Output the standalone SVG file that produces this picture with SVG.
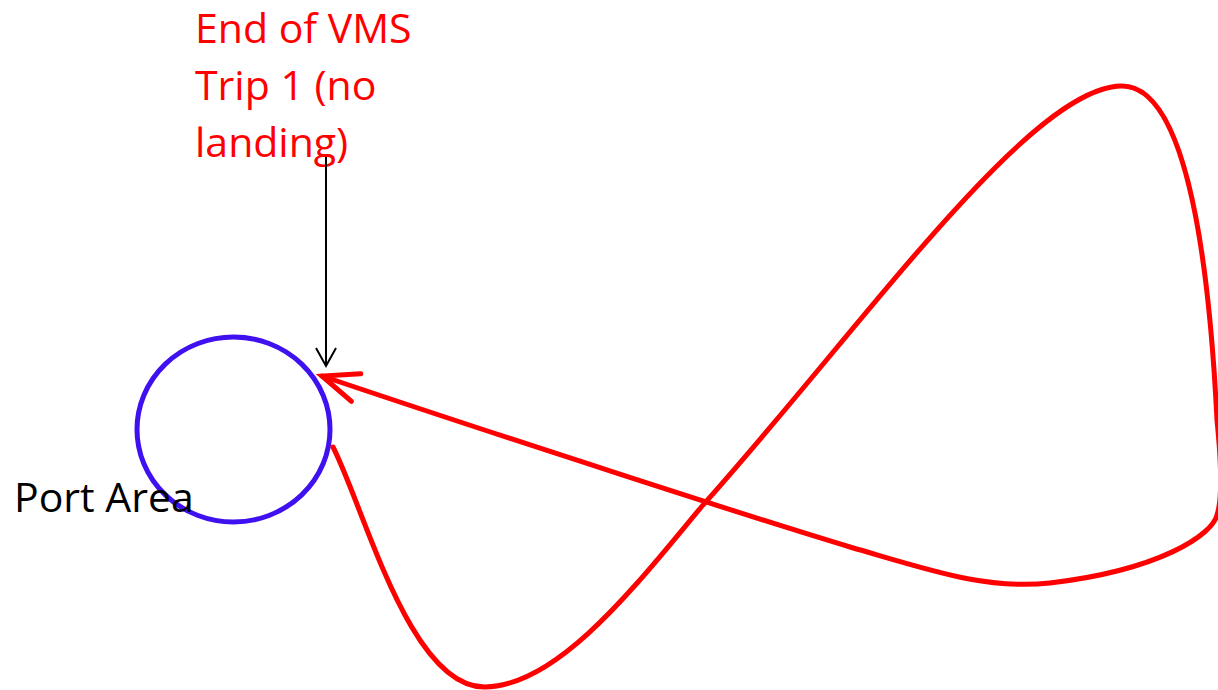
<svg xmlns="http://www.w3.org/2000/svg" width="1218" height="690" viewBox="0 0 1218 690">
  <style>
    .lbl { font-family: "Open Sans", "Liberation Sans", sans-serif; font-size: 41px; }
    .red { fill: #FF0000; }
    .blk { fill: #000000; }
    .trip { fill: none; stroke: #FF0000; stroke-width: 5; stroke-linecap: round; stroke-linejoin: round; }
    .ptr { fill: none; stroke: #000000; stroke-width: 2; }
  </style>
  <defs>
    <marker id="redArrow" markerUnits="userSpaceOnUse" viewBox="-45 -25 50 50" markerWidth="50" markerHeight="50" refX="0" refY="0" orient="auto" overflow="visible">
      <path d="M-36,-14.6 L0,0 L-36,14.6" fill="none" stroke="#FF0000" stroke-width="5" stroke-linecap="round" stroke-linejoin="miter"/>
    </marker>
    <marker id="blackArrow" markerUnits="userSpaceOnUse" viewBox="-25 -15 30 30" markerWidth="30" markerHeight="30" refX="0" refY="0" orient="auto" overflow="visible">
      <path d="M-18,-10 L0,0 L-18,10" fill="none" stroke="#000000" stroke-width="2"/>
    </marker>
  </defs>

  <g id="port-area">
    <ellipse cx="233.5" cy="429.5" rx="96.5" ry="92.5" fill="none" stroke="#3F10F0" stroke-width="5"/>
    <text class="lbl blk" x="14" y="512">Port Area</text>
  </g>

  <g id="end-label">
    <text class="lbl red" x="195" y="43">End of VMS</text>
    <text class="lbl red" x="195" y="100">Trip 1 (no</text>
    <text class="lbl red" x="195" y="157">landing)</text>
  </g>

  <g id="connectors">
    <path id="trip-track" class="trip" marker-end="url(#redArrow)"
      d="M 333 447 C 365 510, 410 688, 485 687 C 560 686, 640 580, 703 505 C 860 330, 1030 86, 1122 86 C 1190 86, 1210 280, 1217 420 C 1222 470, 1222 500, 1217 515 C 1212 535, 1160 570, 1050 583 C 985 590, 930 570, 850 547 C 760 520, 500 436, 322 376"/>
    <line id="end-pointer" class="ptr" x1="326" y1="157" x2="326" y2="366" marker-end="url(#blackArrow)"/>
  </g>
</svg>
